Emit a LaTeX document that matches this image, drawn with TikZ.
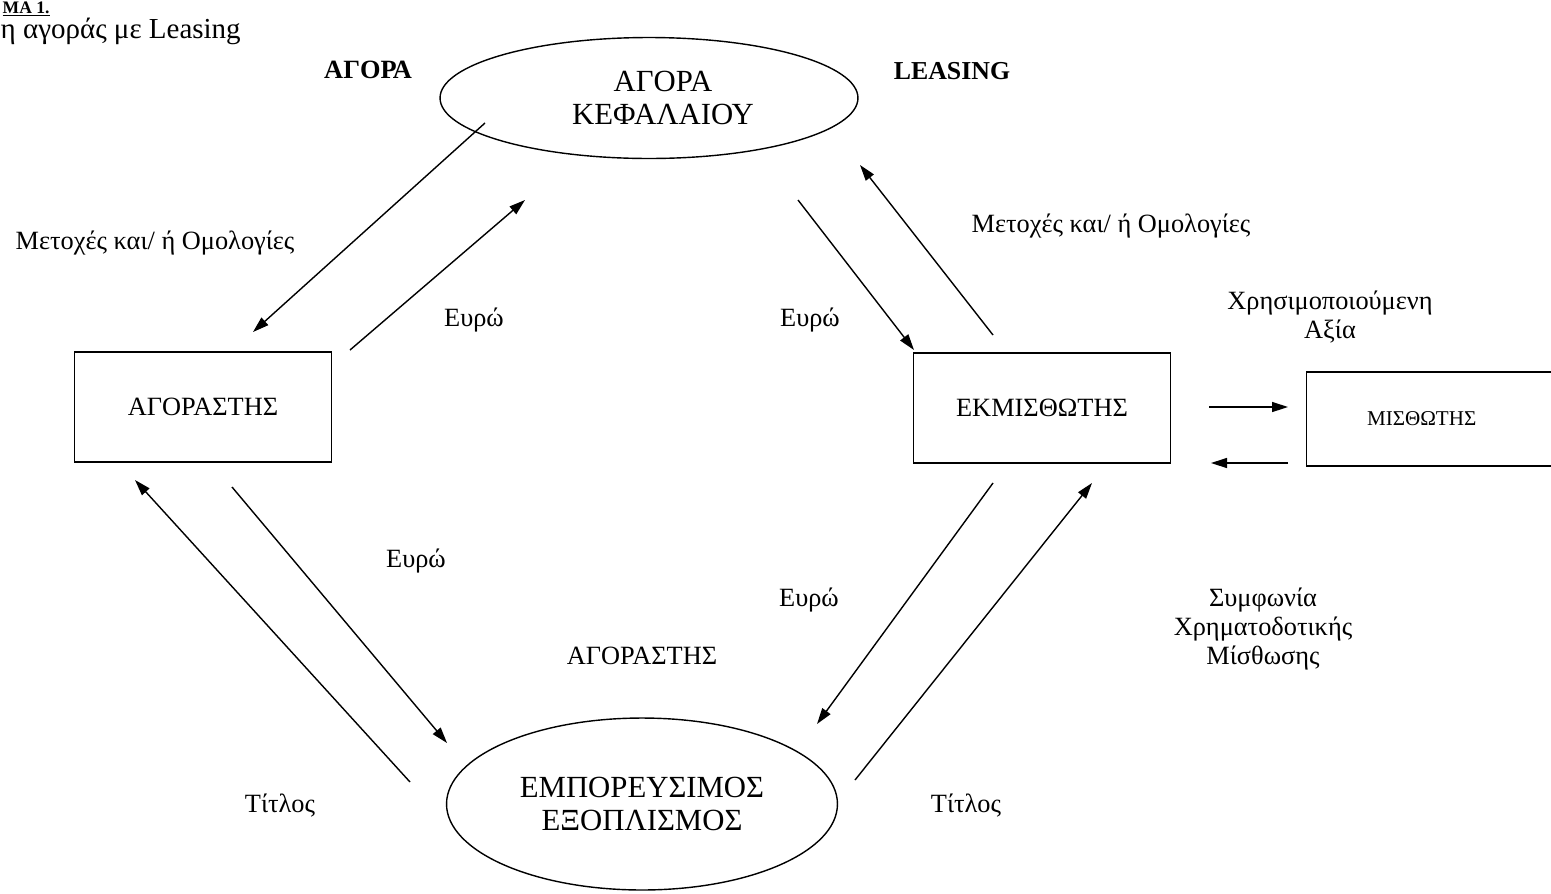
\documentclass[tikz,border=0pt]{standalone}
\usepackage{fontspec}
\setmainfont{Liberation Serif}
\usetikzlibrary{shapes.geometric,arrows.meta}
\begin{document}
\begin{tikzpicture}[x=0.02cm,y=-0.02cm,line width=0.8pt,
  every node/.style={font=\fontsize{15}{16.5}\selectfont},
  box/.style={draw,rectangle,inner sep=0pt,minimum width=5.14cm,minimum height=2.2cm},
  oval/.style={draw,ellipse,inner sep=0pt,align=center,font=\fontsize{17.5}{19}\selectfont},
  flow/.style={-{Triangle[length=0.32cm,width=0.2cm]}},
  lbl/.style={align=center}]
  \useasboundingbox (0,0) rectangle (1551,893);
  \node (nr) [anchor=base west,inner sep=0pt,font=\bfseries\fontsize{10}{11}\selectfont] at (2,13) {\underline{ΜΑ 1.}};
  \node (title) [anchor=base west,inner sep=0pt,font=\fontsize{16.5}{18}\selectfont] at (0,38) {η αγοράς με Leasing};
  \node (kef) [oval,minimum width=8.36cm,minimum height=2.42cm] at (649,98) {\hspace*{0.56cm}ΑΓΟΡΑ\\\hspace*{0.56cm}ΚΕΦΑΛΑΙΟΥ};
  \node (exo) [oval,minimum width=7.82cm,minimum height=3.44cm] at (642,804) {ΕΜΠΟΡΕΥΣΙΜΟΣ\\ΕΞΟΠΛΙΣΜΟΣ};
  \node (agor) [box] at (203,407) {ΑΓΟΡΑΣΤΗΣ};
  \node (ekm) [box] at (1042,408) {ΕΚΜΙΣΘΩΤΗΣ};
  \node (mis) [box,anchor=west,minimum width=5.2cm,minimum height=1.88cm,font=\fontsize{12}{14}\selectfont] at (1306,419) {\hspace*{-0.6cm}ΜΙΣΘΩΤΗΣ};
  \node (agora) [font=\bfseries\fontsize{15}{16}\selectfont] at (368,70) {ΑΓΟΡΑ};
  \node (leas) [font=\bfseries\fontsize{14.7}{16}\selectfont] at (952,71) {LEASING};
  \node (mo1) at (155,243) {Μετοχές και/ ή Ομολογίες};
  \node (mo2) at (1111,226) {Μετοχές και/ ή Ομολογίες};
  \node (eu1) at (474,320) {Ευρώ};
  \node (eu2) at (810,320) {Ευρώ};
  \node (eu3) at (416,561) {Ευρώ};
  \node (eu4) at (809,600) {Ευρώ};
  \node (axia) [lbl] at (1330,317) {Χρησιμοποιούμενη\\Αξία};
  \node (symf) [lbl] at (1263,629) {Συμφωνία\\Χρηματοδοτικής\\Μίσθωσης};
  \node (agor2) at (642,656) {ΑΓΟΡΑΣΤΗΣ};
  \node (tit1) at (280,806) {Τίτλος};
  \node (tit2) at (966,806) {Τίτλος};
  \coordinate (a1) at (485,123); \coordinate (b1) at (253,332);
  \coordinate (a2) at (350,350); \coordinate (b2) at (525,200);
  \coordinate (a3) at (798,200); \coordinate (b3) at (914,350);
  \coordinate (a4) at (993,335); \coordinate (b4) at (860,165);
  \coordinate (a5) at (232,487); \coordinate (b5) at (447,743);
  \coordinate (a6) at (410,782); \coordinate (b6) at (135,480);
  \coordinate (a7) at (993,483); \coordinate (b7) at (817,724);
  \coordinate (a8) at (855,780); \coordinate (b8) at (1092,483);
  \coordinate (a9) at (1209,407); \coordinate (b9) at (1288,407);
  \coordinate (a10) at (1288,463); \coordinate (b10) at (1211,463);
  \draw[flow] (a1) -- (b1);
  \draw[flow] (a2) -- (b2);
  \draw[flow] (a3) -- (b3);
  \draw[flow] (a4) -- (b4);
  \draw[flow] (a5) -- (b5);
  \draw[flow] (a6) -- (b6);
  \draw[flow] (a7) -- (b7);
  \draw[flow] (a8) -- (b8);
  \draw[flow] (a9) -- (b9);
  \draw[flow] (a10) -- (b10);
\end{tikzpicture}
\end{document}
